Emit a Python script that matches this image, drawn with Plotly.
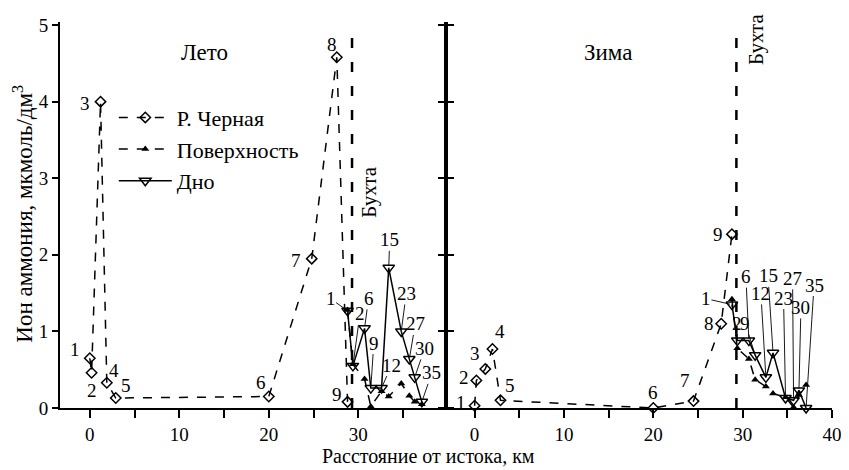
import plotly.graph_objects as go

# ---------------- data ----------------
# Summer (Лето)
s_river_x = [0.0, 0.2, 1.2, 1.9, 2.9, 20.0, 24.8, 27.6, 28.8]
s_river_y = [0.65, 0.46, 4.0, 0.33, 0.13, 0.15, 1.95, 4.58, 0.08]
river_lab = ['1', '2', '3', '4', '5', '6', '7', '8', '9']

bay_x = [28.8, 29.4, 30.7, 31.4, 32.6, 33.4, 34.8, 35.7, 36.3, 37.1]
bay_lab = ['1', '2', '6', '9', '12', '15', '23', '27', '30', '35']
s_surf_y = [1.28, 0.57, 0.38, 0.02, 0.22, 0.15, 0.32, 0.16, 0.08, 0.05]
s_bot_y = [1.27, 0.55, 1.04, 0.26, 0.26, 1.83, 1.00, 0.64, 0.40, 0.08]

# Winter (Зима)
w_river_x = [0.0, 0.2, 1.2, 2.0, 2.9, 20.0, 24.5, 27.6, 28.8]
w_river_y = [0.03, 0.36, 0.51, 0.77, 0.10, 0.0, 0.09, 1.10, 2.27]
w_surf_y = [1.42, 0.78, 0.64, 0.37, 0.28, 0.19, 0.14, 0.01, 0.17, 0.30]
w_bot_y = [1.35, 0.88, 0.88, 0.69, 0.40, 0.72, 0.13, 0.10, 0.23, 0.0]

bay_boundary = 29.3

x_ticks = [0, 5, 10, 15, 20, 25, 30, 35, 40]
x_ticktext = ['0', '', '10', '', '20', '', '30', '', '40']
y_ticks = [0, 1, 2, 3, 4, 5]

# label offsets (pixels, screen: right +, down +)
s_river_off = [(-15, -9), (0, 18), (-16, 2), (7, -12), (10, -13), (-8, -14), (-16, 2), (-5, -13), (-11, -7)]
s_bay_off = [(-17, -12), (7, -52), (4, -30), (3, -45), (10, -23), (1, -28), (5, -38), (6, -35), (10, -29), (10, -29)]
w_river_off = [(-14, -3), (-12, -3), (-10, -15), (8, -18), (9, -15), (0, -16), (-9, -21), (-12, 0), (-14, 0)]
w_bay_off = [(-26, -6), (0, -17), (-3, -64), (-10, -32), (-5, -84), (-5, -77), (-2, -100), (-1, -122), (2, -83), (8, -123)]

FONT = "Liberation Serif, Times New Roman, serif"
BLACK = "black"

fig = go.Figure()


def add_panel(xa, ya, rx, ry, sy, by, legend):
    fig.add_trace(go.Scatter(
        x=rx, y=ry, mode='lines+markers', name='Р. Черная',
        line=dict(color=BLACK, width=1.5, dash='9px,9px'),
        marker=dict(symbol='diamond-open', size=8, color=BLACK, line=dict(width=1.5)),
        xaxis=xa, yaxis=ya, showlegend=legend, legendgroup='a', cliponaxis=False))
    fig.add_trace(go.Scatter(
        x=bay_x, y=sy, mode='lines+markers', name='Поверхность',
        line=dict(color=BLACK, width=1.5, dash='9px,9px'),
        marker=dict(symbol='triangle-up', size=7, color=BLACK),
        xaxis=xa, yaxis=ya, showlegend=legend, legendgroup='b', cliponaxis=False))
    fig.add_trace(go.Scatter(
        x=bay_x, y=by, mode='lines+markers', name='Дно',
        line=dict(color=BLACK, width=1.5),
        marker=dict(symbol='triangle-down-open', size=10, color=BLACK, line=dict(width=1.5)),
        xaxis=xa, yaxis=ya, showlegend=legend, legendgroup='c', cliponaxis=False))


add_panel('x', 'y', s_river_x, s_river_y, s_surf_y, s_bot_y, True)
add_panel('x2', 'y2', w_river_x, w_river_y, w_surf_y, w_bot_y, False)

annotations = []
LBL = dict(family=FONT, size=19, color=BLACK)


def plain_labels(xs, ys, labs, offs, xr, yr):
    for x, y, t, (dx, dy) in zip(xs, ys, labs, offs):
        annotations.append(dict(x=x, y=y, xref=xr, yref=yr, text=t, showarrow=False,
                                xanchor='center', yanchor='middle',
                                xshift=dx, yshift=-dy, font=LBL))


def leader_labels(xs, ys, labs, offs, xr, yr):
    for x, y, t, (dx, dy) in zip(xs, ys, labs, offs):
        annotations.append(dict(x=x, y=y, xref=xr, yref=yr, text=t, showarrow=True,
                                arrowhead=0, arrowwidth=0.9, arrowcolor=BLACK, ax=dx, ay=dy,
                                standoff=2, borderpad=0, font=LBL))


plain_labels(s_river_x, s_river_y, river_lab, s_river_off, 'x', 'y')
leader_labels(bay_x, s_bot_y, bay_lab, s_bay_off, 'x', 'y')
plain_labels(w_river_x, w_river_y, river_lab, w_river_off, 'x2', 'y2')
leader_labels(bay_x, w_bot_y, bay_lab, w_bay_off, 'x2', 'y2')


def px(xp, yp):
    # page pixel position -> paper coordinates (plot area: x 60..835, y 15..408 on the page)
    return (xp - 60) / 775.0, (408 - yp) / 393.0


def text_ann(xp, yp, text, size, angle=0):
    x, y = px(xp, yp)
    return dict(x=x, y=y, xref='paper', yref='paper', text=text, showarrow=False,
                xanchor='center', yanchor='middle', textangle=angle,
                font=dict(family=FONT, size=size, color=BLACK))


annotations += [
    text_ann(205, 46, 'Лето', 23),
    text_ann(610, 46, 'Зима', 23),
    text_ann(370, 188, 'Бухта', 21, -90),
    text_ann(758, 33, 'Бухта', 21, -90),
    text_ann(430, 457, 'Расстояние от истока, км', 20),
    text_ann(23, 210, 'Ион аммония, мкмоль/дм<sup>3</sup>', 23, -90),
]

shapes = []
for xr in ('x', 'x2'):
    shapes.append(dict(type='line', xref=xr, yref='y domain', x0=bay_boundary, x1=bay_boundary,
                       y0=0, y1=0.975, line=dict(color=BLACK, width=2.5, dash='10px,14px')))

axis_common = dict(showgrid=False, zeroline=False, showline=True, linecolor=BLACK, linewidth=2,
                   ticks='outside', tickcolor=BLACK, tickwidth=2,
                   tickfont=dict(family=FONT, size=19, color=BLACK))

lx, ly = px(114, 91)

# the page body adds an 8px margin, so the figure is sized to fill the rest of the window
fig.update_layout(
    width=841, height=462,
    margin=dict(l=52, r=14, t=7, b=62),
    paper_bgcolor='white', plot_bgcolor='white',
    showlegend=True,
    legend=dict(x=lx, y=ly, xanchor='left', yanchor='top', bgcolor='rgba(0,0,0,0)',
                font=dict(family=FONT, size=22, color=BLACK), tracegroupgap=0,
                itemwidth=53),
    xaxis=dict(domain=[0, 0.5], range=[-3.33, 39.8], tickvals=x_ticks[:-1], ticktext=x_ticktext[:-1],
               ticklen=8, anchor='y', **axis_common),
    xaxis2=dict(domain=[0.5, 1], range=[-3.2, 40], tickvals=x_ticks, ticktext=x_ticktext,
                ticklen=8, anchor='y2', **axis_common),
    yaxis=dict(domain=[0, 1], range=[0, 5.04], tickvals=y_ticks, ticklen=6, anchor='x',
               mirror='ticks', ticklabeloverflow='allow', **axis_common),
    yaxis2=dict(domain=[0, 1], range=[0, 5.04], tickvals=y_ticks, ticklen=6, anchor='x2',
                matches='y', showticklabels=False, **axis_common),
    annotations=annotations,
    shapes=shapes,
)

fig.write_html("out.html")
